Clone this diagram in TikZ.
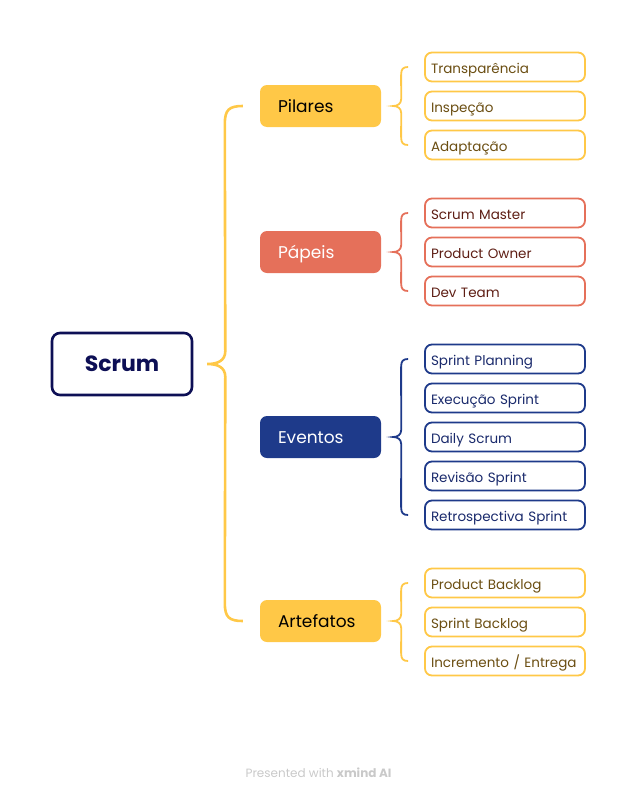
\documentclass[tikz,border=0pt]{standalone}
\usepackage{fontspec}
\setmainfont{Poppins}
\usetikzlibrary{calc}
\definecolor{amber}{HTML}{FFC847}
\definecolor{coral}{HTML}{E5705A}
\definecolor{navy}{HTML}{1E3A8A}
\definecolor{ink}{HTML}{0D0F55}
\definecolor{amberText}{HTML}{6B4E12}
\definecolor{coralText}{HTML}{5E1E14}
\definecolor{navyText}{HTML}{1A2A6C}
\definecolor{footGray}{HTML}{C9C9C9}

% curly connector from a branch topic to its list of sub-topics
\newcommand\subbrace[4]{%
  \draw[#4, line width=1.8pt]
    ($(#2.west)+(-16,0)$) .. controls ($(#2.west)+(-21,0)$) and ($(#2.west)+(-23,2)$) ..
    ($(#2.west)+(-23,8)$) -- ($(#1.east)+(20,-7)$)
    .. controls ($(#1.east)+(20,-2)$) and ($(#1.east)+(16,0)$) .. ($(#1.east)+(12,0)$)
    .. controls ($(#1.east)+(16,0)$) and ($(#1.east)+(20,2)$) .. ($(#1.east)+(20,7)$)
    -- ($(#3.west)+(-23,-8)$)
    .. controls ($(#3.west)+(-23,-2)$) and ($(#3.west)+(-21,0)$) .. ($(#3.west)+(-16,0)$);}

\begin{document}
\begin{tikzpicture}[x=1pt,y=-1pt,
  rootbox/.style={draw=ink, line width=2.6pt, fill=white, rounded corners=8pt,
    minimum width=140pt, minimum height=62pt, inner sep=0pt,
    font=\fontsize{22}{26}\selectfont\bfseries, text=ink},
  branch/.style={rounded corners=7pt, minimum width=121pt, minimum height=42pt,
    inner sep=0pt, text width=85pt, align=left, text height=15pt, text depth=3pt,
    font=\fontsize{17}{20}\selectfont},
  leaf/.style={draw=#1, line width=1.8pt, fill=white, rounded corners=7pt,
    minimum width=160pt, minimum height=29pt, inner sep=0pt, text width=148pt,
    text height=15.5pt, text depth=2.5pt,
    align=left, font=\fontsize{13.5}{16}\selectfont},
  amberLeaf/.style={leaf=amber, text=amberText},
  coralLeaf/.style={leaf=coral, text=coralText},
  navyLeaf/.style={leaf=navy, text=navyText}]
\useasboundingbox (0,0) rectangle (637,798);

% central topic
\node[rootbox] (root) at (122,364) {Scrum};
\coordinate (tip) at ($(root.east)+(14,0)$);

% branch topics
\node[branch, fill=amber, text=black] (pil) at (320.5,106) {Pilares};
\node[branch, fill=coral, text=white] (pap) at (320.5,252) {Pápeis};
\node[branch, fill=navy, text=white] (eve) at (320.5,437) {Eventos};
\node[branch, fill=amber, text=black] (art) at (320.5,621) {Artefatos};

% main brace from the central topic to the branches
\draw[amber, line width=2.6pt]
  ($(pil.west)+(-17,0)$) .. controls ($(pil.west)+(-31,0)$) and ($(pil.west)+(-35,4)$) ..
  ($(pil.west)+(-35,18)$) -- ($(tip)+(18,-13)$)
  .. controls ($(tip)+(18,-3)$) and ($(tip)+(10,0)$) .. (tip)
  .. controls ($(tip)+(10,0)$) and ($(tip)+(18,3)$) .. ($(tip)+(18,13)$)
  -- ($(art.west)+(-35,-18)$)
  .. controls ($(art.west)+(-35,-4)$) and ($(art.west)+(-31,0)$) .. ($(art.west)+(-17,0)$);

% Pilares
\node[amberLeaf] (p1) at (505,67) {Transparência};
\node[amberLeaf] (p2) at (505,106) {Inspeção};
\node[amberLeaf] (p3) at (505,145) {Adaptação};
\subbrace{pil}{p1}{p3}{amber}

% Papeis
\node[coralLeaf] (r1) at (505,213) {Scrum Master};
\node[coralLeaf] (r2) at (505,252) {Product Owner};
\node[coralLeaf] (r3) at (505,291) {Dev Team};
\subbrace{pap}{r1}{r3}{coral}

% Eventos
\node[navyLeaf] (e1) at (505,359) {Sprint Planning};
\node[navyLeaf] (e2) at (505,398) {Execução Sprint};
\node[navyLeaf] (e3) at (505,437) {Daily Scrum};
\node[navyLeaf] (e4) at (505,476) {Revisão Sprint};
\node[navyLeaf] (e5) at (505,515) {Retrospectiva Sprint};
\subbrace{eve}{e1}{e5}{navy}

% Artefatos
\node[amberLeaf] (a1) at (505,583) {Product Backlog};
\node[amberLeaf] (a2) at (505,622) {Sprint Backlog};
\node[amberLeaf] (a3) at (505,661) {Incremento / Entrega};
\subbrace{art}{a1}{a3}{amber}

% footer
\node[text=footGray, font=\fontsize{12}{14}\selectfont] (foot) at (318.5,773)
  {Presented with \textbf{xmind AI}};
\end{tikzpicture}
\end{document}
